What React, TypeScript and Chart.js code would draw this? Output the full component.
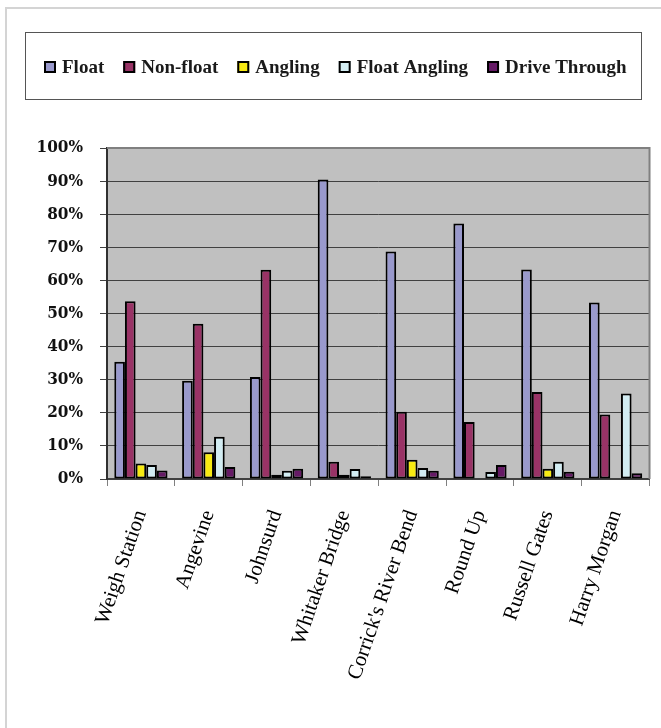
import React, { useEffect, useRef } from "react";
import { Chart, registerables } from "chart.js";

Chart.register(...registerables);

const categories = [
  "Weigh Station",
  "Angevine",
  "Johnsurd",
  "Whitaker Bridge",
  "Corrick's River Bend",
  "Round Up",
  "Russell Gates",
  "Harry Morgan",
];
const seriesNames = ["Float", "Non-float", "Angling", "Float Angling", "Drive Through"];
const floatValues = [35.4, 29.7, 30.8, 90.5, 68.7, 77.2, 63.3, 53.3];
const nonFloatValues = [53.7, 46.9, 63.2, 5.2, 20.3, 17.2, 26.3, 19.5];
const anglingValues = [4.7, 8.1, 1.3, 1.3, 5.8, 0, 3.1, 0];
const floatAnglingValues = [4.2, 12.8, 2.5, 3.0, 3.3, 2.1, 5.2, 25.8];
const driveThroughValues = [2.6, 3.6, 3.1, 0.8, 2.5, 4.2, 2.2, 1.7];
const yTickValues = [0, 10, 20, 30, 40, 50, 60, 70, 80, 90, 100];
const seriesColors = ["#9999CC", "#993366", "#F7EA12", "#D2ECF2", "#661A66"];

const seriesValues = [floatValues, nonFloatValues, anglingValues, floatAnglingValues, driveThroughValues];

const decorPlugin = {
  id: "decor",
  beforeDraw(chart: any) {
    const { ctx, chartArea } = chart;
    ctx.save();
    ctx.fillStyle = "#ffffff";
    ctx.fillRect(0, 0, chart.width, chart.height);
    // outer frame
    ctx.strokeStyle = "#d4d4d4";
    ctx.lineWidth = 2;
    ctx.strokeRect(6, 8, 800, 900);
    // plot background
    ctx.fillStyle = "#C0C0C0";
    ctx.fillRect(chartArea.left, chartArea.top, chartArea.right - chartArea.left, chartArea.bottom - chartArea.top);
    ctx.restore();
  },
  afterDraw(chart: any) {
    const { ctx, chartArea } = chart;
    ctx.save();
    // plot top/right border
    ctx.strokeStyle = "#808080";
    ctx.lineWidth = 2;
    ctx.beginPath();
    ctx.moveTo(chartArea.left, chartArea.top);
    ctx.lineTo(chartArea.right, chartArea.top);
    ctx.lineTo(chartArea.right, chartArea.bottom);
    ctx.stroke();
    // legend box
    ctx.strokeStyle = "#555555";
    ctx.lineWidth = 1;
    ctx.strokeRect(25.5, 32.5, 616, 67);
    ctx.font = 'bold 19px "Liberation Serif"';
    ctx.textBaseline = "middle";
    ctx.textAlign = "left";
    let x = 44;
    const cy = 67;
    chart.data.datasets.forEach((ds: any) => {
      ctx.fillStyle = ds.backgroundColor;
      ctx.fillRect(x, cy - 6, 12, 12);
      ctx.strokeStyle = "#000";
      ctx.lineWidth = 2;
      ctx.strokeRect(x + 1, cy - 5, 10, 10);
      ctx.fillStyle = "#1a1a1a";
      ctx.fillText(ds.label, x + 18, cy + 1);
      x += 18 + ctx.measureText(ds.label).width + 19;
    });
    ctx.restore();
  },
};

export default function App() {
  const ref = useRef<HTMLCanvasElement | null>(null);
  useEffect(() => {
    if (!ref.current) return;
    const chart = new Chart(ref.current, {
      type: "bar",
      data: {
        labels: categories,
        datasets: seriesNames.map((name, i) => ({
          label: name,
          data: seriesValues[i],
          backgroundColor: seriesColors[i],
          borderColor: "#000000",
          borderWidth: 2,
          borderSkipped: false,
          barPercentage: 1,
          categoryPercentage: 0.785,
        })),
      },
      options: {
        animation: false,
        responsive: false,
        devicePixelRatio: 1,
        layout: { padding: { top: 148, right: 9, bottom: 0, left: 0 } },
        plugins: { legend: { display: false }, tooltip: { enabled: false } },
        scales: {
          x: {
            grid: { display: true, drawOnChartArea: false, drawTicks: true, tickLength: 7, color: "#808080", offset: true },
            border: { display: true, color: "#404040", width: 2 },
            ticks: {
              autoSkip: false,
              minRotation: 71,
              maxRotation: 71,
              padding: 21,
              color: "#000",
              font: { family: '"Liberation Serif"', size: 21 },
            },
            afterFit: (s: any) => {
              s.height = 249;
            },
          },
          y: {
            min: 0,
            max: 100,
            afterBuildTicks: (s: any) => {
              s.ticks = yTickValues.map((v) => ({ value: v }));
            },
            ticks: {
              callback: (v: any) => v + "%",
              padding: 17,
              color: "#111",
              font: { family: '"DejaVu Serif Condensed"', size: 17, weight: "bold" },
            },
            grid: { color: "#404040", lineWidth: 1, tickLength: 7, drawTicks: true },
            border: { color: "#303030", width: 2 },
            afterFit: (s: any) => {
              s.width = 107;
            },
          },
        },
      },
      plugins: [decorPlugin],
    });
    return () => chart.destroy();
  }, []);
  return (
    <div style={{ position: "absolute", left: 0, top: 0, width: 661, height: 728 }}>
      <canvas ref={ref} width={661} height={728} />
    </div>
  );
}
